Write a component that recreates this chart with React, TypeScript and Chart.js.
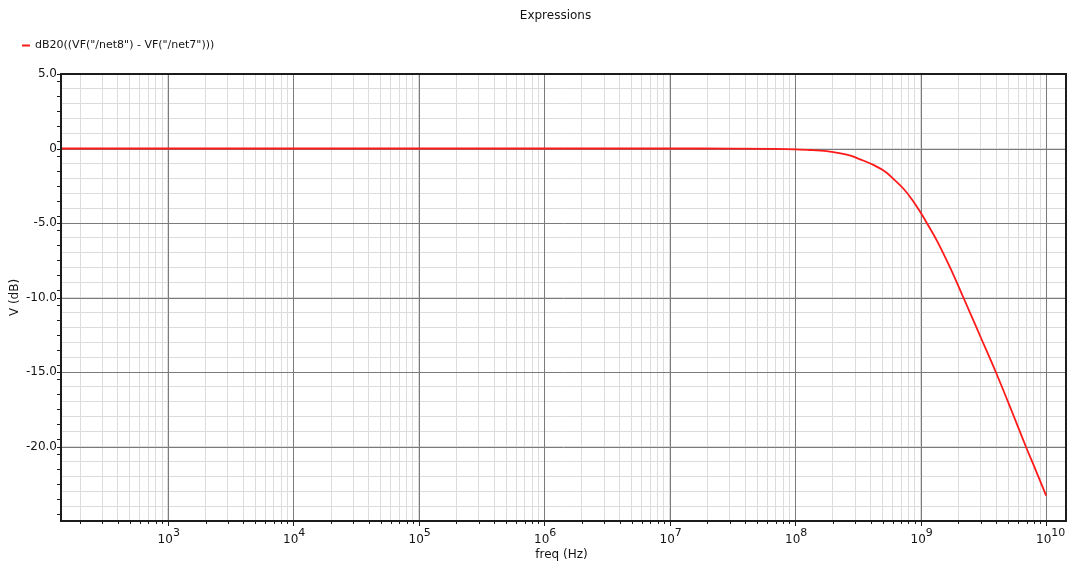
import { useEffect, useRef } from 'react';
import { Chart, registerables } from 'chart.js';

Chart.register(...registerables);

// AC response of the expression, frequency in Hz and magnitude in dB
const freqHz = [
  100, 1e3, 1e4, 1e5, 1e6, 1e7, 3.2e7, 6.9e7, 1e8, 1.32e8, 1.78e8, 2.3e8, 2.8e8, 3.3e8,
  4.2e8, 5.1e8, 6.0e8, 7.3e8, 8.5e8, 1e9, 1.12e9, 1.35e9, 1.74e9, 2.19e9, 2.95e9, 3.97e9,
  5.25e9, 6.89e9, 8.32e9, 1e10,
];
const gainDb = [
  0, 0, 0, 0, 0, 0, -0.005, -0.03, -0.06, -0.1, -0.18, -0.33, -0.5, -0.73,
  -1.1, -1.5, -2.0, -2.7, -3.4, -4.3, -5.0, -6.2, -8.1, -10.0, -12.5, -15.0,
  -17.5, -20.0, -21.65, -23.3,
];

// Axis ranges and labels
const xMin = 141;
const xMax = 1.44e10;
const yMin = -25;
const yMax = 5;
const decadeExponents = [3, 4, 5, 6, 7, 8, 9, 10];
const yTickValues = [5, 0, -5, -10, -15, -20];
const yTickLabels = ['5.0', '0', '-5.0', '-10.0', '-15.0', '-20.0'];

const chartTitle = 'Expressions';
const seriesLabel = 'dB20((VF("/net8") - VF("/net7")))';
const xAxisTitle = 'freq (Hz)';
const yAxisTitle = 'V (dB)';

const FONT = '"DejaVu Sans", Verdana, sans-serif';
const INK = '#141414';
const FRAME = '#1c1c1c';
const GRID_MAJOR = '#7a7a7a';
const GRID_MINOR = '#dcdcdc';
const CURVE = '#ff1a1a';

const isDecade = (v: number) => Math.abs(Math.log10(v) - Math.round(Math.log10(v))) < 1e-9;

// 1..9 x 10^n grid positions inside the visible frequency range
const xGridValues: number[] = [];
for (let e = 2; e <= 10; e++) {
  for (let m = 1; m <= 9; m++) {
    const v = m * Math.pow(10, e);
    if (v > xMin && v < xMax) xGridValues.push(v);
  }
}
const yGridValues: number[] = [];
for (let v = yMin; v <= yMax; v++) yGridValues.push(v);

const seg = (ctx: CanvasRenderingContext2D, x1: number, y1: number, x2: number, y2: number) => {
  ctx.beginPath();
  ctx.moveTo(x1, y1);
  ctx.lineTo(x2, y2);
  ctx.stroke();
};

// Decade and 5 dB grid lines sit above the light grid, below the curve
const majorGrid = {
  id: 'majorGrid',
  beforeDatasetsDraw(chart: any) {
    const { ctx, chartArea: a, scales } = chart;
    ctx.save();
    ctx.strokeStyle = GRID_MAJOR;
    ctx.lineWidth = 1;
    for (const v of xGridValues) {
      if (!isDecade(v)) continue;
      const px = Math.round(scales.x.getPixelForValue(v)) + 0.5;
      seg(ctx, px, a.top, px, a.bottom);
    }
    for (const v of yGridValues) {
      if (v % 5 !== 0) continue;
      const py = Math.round(scales.y.getPixelForValue(v)) + 0.5;
      seg(ctx, a.left, py, a.right, py);
    }
    ctx.restore();
  },
};

// Frame, tick marks and all text around the plot
const decorations = {
  id: 'decorations',
  afterDraw(chart: any) {
    const { ctx, chartArea: a, scales } = chart;
    const xs = scales.x;
    const ys = scales.y;
    ctx.save();

    // plot frame
    ctx.strokeStyle = FRAME;
    ctx.lineWidth = 2;
    ctx.strokeRect(a.left, a.top, a.right - a.left, a.bottom - a.top);

    // tick marks
    ctx.lineWidth = 1;
    for (const v of xGridValues) {
      const px = Math.round(xs.getPixelForValue(v)) + 0.5;
      seg(ctx, px, a.bottom, px, a.bottom + (isDecade(v) ? 5 : 3));
    }
    for (let v = yMin + 0.5; v < yMax; v += 1) {
      const py = Math.round(ys.getPixelForValue(v)) + 0.5;
      seg(ctx, a.left - 4, py, a.left, py);
    }
    for (const v of yTickValues) {
      const py = Math.round(ys.getPixelForValue(v)) + 0.5;
      seg(ctx, a.left - 4, py, a.left, py);
    }

    ctx.fillStyle = INK;

    // y tick labels
    ctx.font = `12px ${FONT}`;
    ctx.textAlign = 'right';
    ctx.textBaseline = 'middle';
    yTickValues.forEach((v, i) => {
      ctx.fillText(yTickLabels[i], a.left - 4, ys.getPixelForValue(v));
    });

    // x tick labels as powers of ten
    ctx.textAlign = 'left';
    ctx.textBaseline = 'alphabetic';
    for (const e of decadeExponents) {
      const px = xs.getPixelForValue(Math.pow(10, e));
      ctx.font = `12px ${FONT}`;
      const base = '10';
      const wBase = ctx.measureText(base).width;
      const x0 = px - 2.5 - wBase / 2;
      ctx.fillText(base, x0, 543);
      ctx.font = `11px ${FONT}`;
      ctx.fillText(String(e), x0 + wBase, 536);
    }

    // axis titles
    ctx.font = `12px ${FONT}`;
    ctx.textAlign = 'center';
    ctx.textBaseline = 'middle';
    ctx.fillText(xAxisTitle, (a.left + a.right) / 2 - 2, 555);
    ctx.save();
    ctx.translate(15, (a.top + a.bottom) / 2);
    ctx.rotate(-Math.PI / 2);
    ctx.fillText(yAxisTitle, 0, 0);
    ctx.restore();

    // chart title
    ctx.fillText(chartTitle, 555.5, 16);

    // legend entry
    ctx.strokeStyle = CURVE;
    ctx.lineWidth = 2;
    seg(ctx, 22, 45.5, 30, 45.5);
    ctx.font = `11px ${FONT}`;
    ctx.textAlign = 'left';
    ctx.fillText(seriesLabel, 35, 45.5);

    ctx.restore();
  },
};

export default function App() {
  const canvasRef = useRef<HTMLCanvasElement | null>(null);

  useEffect(() => {
    const canvas = canvasRef.current;
    if (!canvas) return;
    const points = freqHz.map((f, i) => ({ x: f, y: gainDb[i] }));

    const chart = new Chart(canvas, {
      type: 'line',
      data: {
        datasets: [
          {
            label: seriesLabel,
            data: points,
            borderColor: CURVE,
            backgroundColor: CURVE,
            borderWidth: 1.8,
            pointRadius: 0,
            cubicInterpolationMode: 'monotone',
            fill: false,
          },
        ],
      },
      options: {
        animation: false,
        responsive: false,
        devicePixelRatio: 1,
        layout: { padding: { left: 61, top: 74, right: 2, bottom: 45 } },
        plugins: {
          legend: { display: false },
          title: { display: false },
          tooltip: { enabled: false },
        },
        scales: {
          x: {
            type: 'logarithmic',
            min: xMin,
            max: xMax,
            afterBuildTicks: (scale: any) => {
              scale.ticks = xGridValues.map((v) => ({ value: v }));
            },
            ticks: { display: false },
            border: { display: false },
            grid: {
              drawTicks: false,
              lineWidth: 1,
              color: GRID_MINOR,
            },
          },
          y: {
            type: 'linear',
            min: yMin,
            max: yMax,
            afterBuildTicks: (scale: any) => {
              scale.ticks = yGridValues.map((v) => ({ value: v }));
            },
            ticks: { display: false },
            border: { display: false },
            grid: {
              drawTicks: false,
              lineWidth: 1,
              color: GRID_MINOR,
            },
          },
        },
      },
      plugins: [majorGrid, decorations],
    });

    return () => chart.destroy();
  }, []);

  return (
    <div
      style={{
        position: 'fixed',
        left: 0,
        top: 0,
        width: 1068,
        height: 566,
        background: '#ffffff',
      }}
    >
      <canvas ref={canvasRef} width={1068} height={566} style={{ display: 'block' }} />
    </div>
  );
}
